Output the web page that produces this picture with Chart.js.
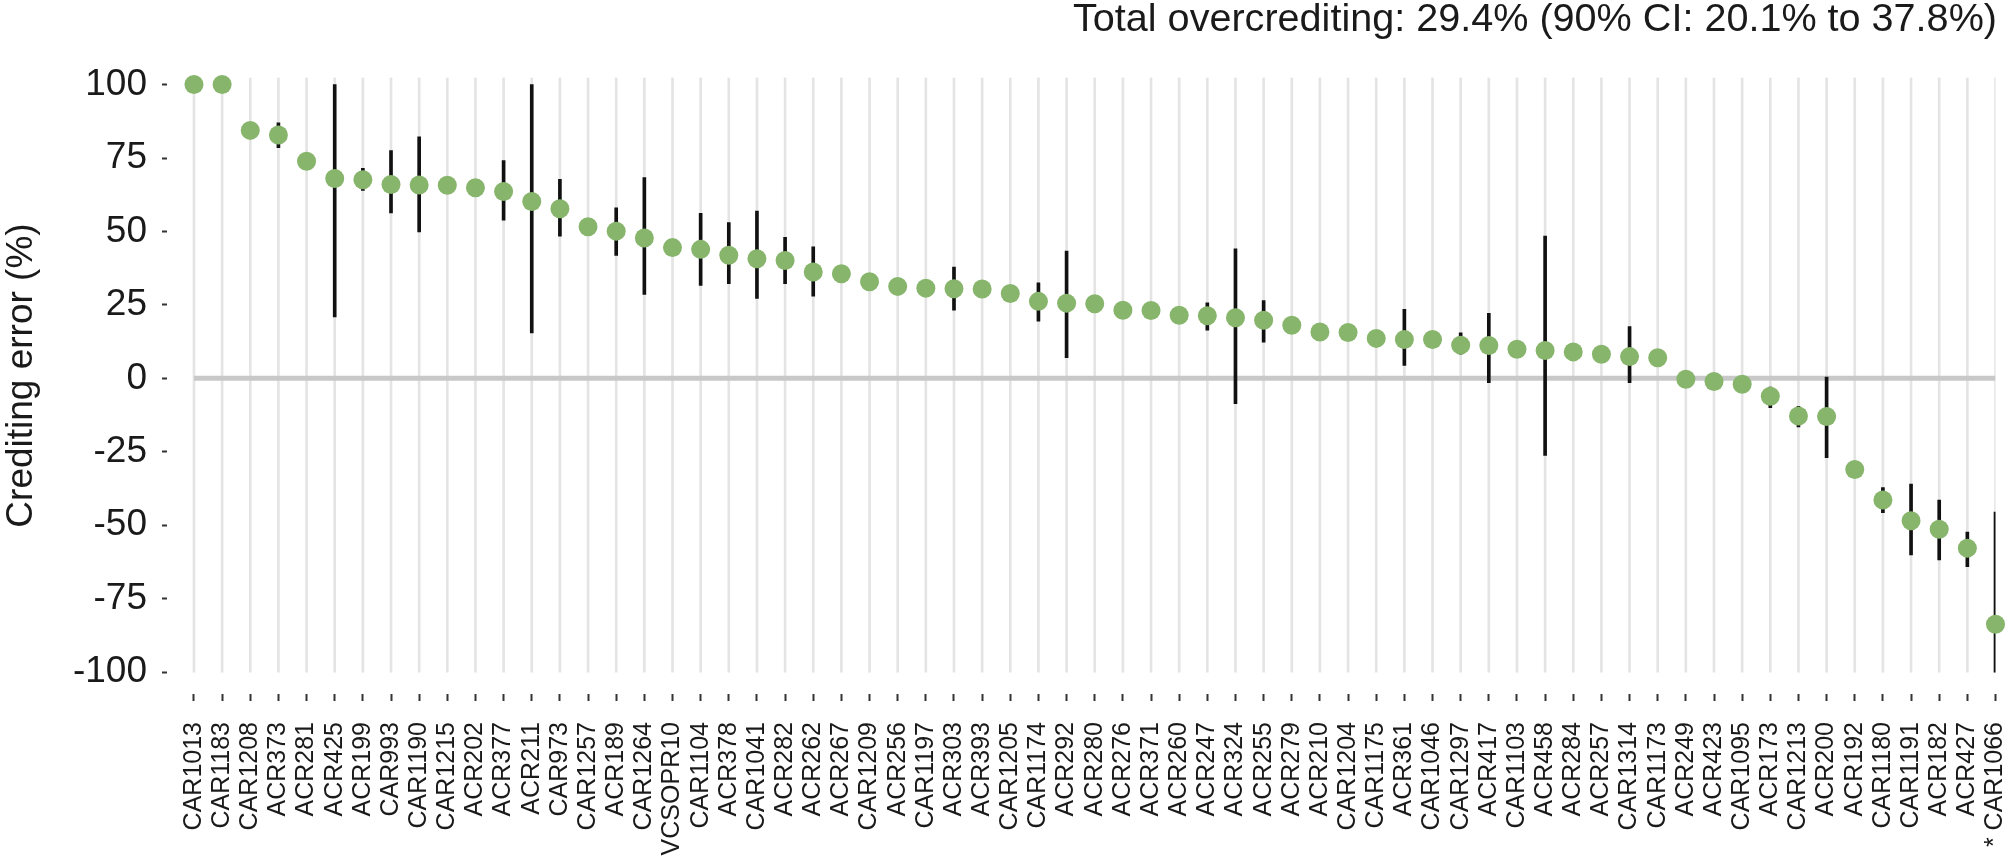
<!DOCTYPE html>
<html>
<head>
<meta charset="utf-8">
<title>Crediting error</title>
<script src="https://cdn.jsdelivr.net/npm/chart.js@4.4.1/dist/chart.umd.min.js"></script>
<style>
  html, body { margin: 0; padding: 0; background: #fff; }
  #wrap { width: 2005px; height: 856px; }
</style>
</head>
<body>
<div id="wrap"><canvas id="chart"></canvas></div>
<script>
const projects = [
  "CAR1013", "CAR1183", "CAR1208", "ACR373", "ACR281", "ACR425", "ACR199", "CAR993",
  "CAR1190", "CAR1215", "ACR202", "ACR377", "ACR211", "CAR973", "CAR1257", "ACR189",
  "CAR1264", "VCSOPR10", "CAR1104", "ACR378", "CAR1041", "ACR282", "ACR262", "ACR267",
  "CAR1209", "ACR256", "CAR1197", "ACR303", "ACR393", "CAR1205", "CAR1174", "ACR292",
  "ACR280", "ACR276", "ACR371", "ACR260", "ACR247", "ACR324", "ACR255", "ACR279",
  "ACR210", "CAR1204", "CAR1175", "ACR361", "CAR1046", "CAR1297", "ACR417", "CAR1103",
  "ACR458", "ACR284", "ACR257", "CAR1314", "CAR1173", "ACR249", "ACR423", "CAR1095",
  "ACR173", "CAR1213", "ACR200", "ACR192", "CAR1180", "CAR1191", "ACR182", "ACR427",
  "* CAR1066"
];

// crediting error (%) per project
const creditingError = [
  100, 100, 84.4, 82.8, 73.9, 68.0, 67.6, 66.0,
  65.8, 65.7, 64.9, 63.6, 60.2, 57.7, 51.6, 50.1,
  47.8, 44.5, 43.9, 41.9, 40.7, 40.1, 36.2, 35.6,
  32.9, 31.3, 30.7, 30.5, 30.4, 28.9, 26.2, 25.6,
  25.4, 23.2, 23.1, 21.5, 21.3, 20.6, 19.8, 18.1,
  15.8, 15.6, 13.6, 13.2, 13.2, 11.3, 11.2, 9.9,
  9.5, 9.0, 8.2, 7.4, 7.0, -0.3, -1.1, -2.0,
  -6.1, -12.8, -13.0, -31.0, -41.4, -48.5, -51.4, -57.8,
  -83.7
];

// 90% interval ends, null where no bar is drawn
const ciLow = [
  null, null, null, 78.5, null, 20.9, 64.0, 56.3,
  49.8, null, null, 53.8, 15.5, 48.4, null, 41.8,
  28.6, null, 31.6, 32.2, 27.2, 32.2, 28.0, null,
  null, null, null, 23.2, null, null, 19.5, 7.0,
  null, null, null, null, 16.4, -8.6, 12.3, null,
  null, null, null, 4.4, null, 8.2, -1.5, null,
  -26.2, null, null, -1.5, null, null, null, null,
  -10.0, -16.5, -27.0, null, -45.7, -60.1, -61.8, -64.1,
  -100
];
const ciHigh = [
  null, null, null, 87.0, null, 100, 71.5, 77.5,
  82.2, null, null, 74.1, 100, 67.7, null, 58.0,
  68.3, null, 56.2, 53.0, 56.9, 48.0, 44.8, null,
  null, null, null, 37.9, null, null, 32.5, 43.3,
  null, null, null, null, 25.7, 44.1, 26.5, null,
  null, null, null, 23.5, null, 15.5, 22.1, null,
  48.4, null, null, 17.6, null, null, null, null,
  -3.0, -9.5, 0.4, null, -37.2, -36.0, -41.4, -52.3,
  -45.5
];

const yTicks = [100, 75, 50, 25, 0, -25, -50, -75, -100];
const headline = "Total overcrediting: 29.4% (90% CI: 20.1% to 37.8%)";

const Y_MIN = -107.45, Y_MAX = 102.37;
const GRID_LOW = -100, GRID_HIGH = Y_MAX;

const points = projects.map((p, i) => ({ x: i, y: creditingError[i] }));
const errorBars = [];
projects.forEach((p, i) => {
  if (ciLow[i] !== null) errorBars.push({ x: i, y: [ciLow[i], ciHigh[i]] });
});
const gridBars = projects.map((p, i) => ({ x: i, y: [GRID_LOW, GRID_HIGH] }));
const last = projects.length - 1;

Chart.defaults.font.family = "'Liberation Sans', Arial, Helvetica, sans-serif";
Chart.defaults.color = "#1a1a1a";

new Chart(document.getElementById("chart"), {
  type: "scatter",
  data: {
    datasets: [
      {
        type: "scatter",
        data: points,
        backgroundColor: "#87b56c",
        pointRadius: 9.5,
        pointBorderWidth: 0,
        order: 0,
        clip: false
      },
      {
        type: "bar",
        data: errorBars,
        backgroundColor: "#111111",
        barThickness: 3,
        borderWidth: 0,
        grouped: false,
        order: 1
      },
      {
        type: "line",
        data: [{ x: 0, y: 0 }, { x: last, y: 0 }],
        borderColor: "#c8c8c8",
        borderWidth: 5,
        pointRadius: 0,
        order: 2
      },
      {
        type: "bar",
        data: gridBars,
        backgroundColor: "#e4e4e4",
        barThickness: 2,
        borderWidth: 0,
        grouped: false,
        order: 3
      }
    ]
  },
  options: {
    responsive: true,
    maintainAspectRatio: false,
    animation: false,
    layout: { padding: { left: 0, right: 8, top: 0, bottom: 0 } },
    plugins: {
      legend: { display: false },
      tooltip: { enabled: false },
      title: {
        display: true,
        text: headline,
        align: "end",
        color: "#1a1a1a",
        font: { size: 39.6, weight: "normal", lineHeight: 1 },
        padding: { top: 0, bottom: 38 }
      }
    },
    scales: {
      x: {
        type: "linear",
        min: -0.958,
        max: last,
        offset: false,
        border: { display: false },
        grid: {
          offset: false,
          drawOnChartArea: false,
          drawTicks: true,
          tickLength: 7,
          tickWidth: 2,
          tickColor: "#333333"
        },
        afterBuildTicks: (scale) => {
          scale.ticks = projects.map((p, i) => ({ value: i }));
        },
        afterFit: (scale) => {
          scale.height = 162;
          scale.paddingLeft = 0;
          scale.paddingRight = 0;
        },
        ticks: {
          autoSkip: false,
          maxRotation: 90,
          minRotation: 90,
          padding: 21,
          color: "#1a1a1a",
          font: { size: 25 },
          callback: (value) => projects[Math.round(value)]
        }
      },
      y: {
        type: "linear",
        min: Y_MIN,
        max: Y_MAX,
        beginAtZero: false,
        border: { display: false },
        grid: {
          drawOnChartArea: false,
          drawTicks: true,
          tickLength: 5,
          tickWidth: 2,
          tickColor: "#333333"
        },
        afterBuildTicks: (scale) => {
          scale.ticks = yTicks.map(v => ({ value: v }));
        },
        afterFit: (scale) => {
          scale.width = 167;
          scale.paddingTop = 0;
          scale.paddingBottom = 0;
        },
        title: {
          display: true,
          // two leading spaces nudge the rotated title up to where the original sits
          text: "  Crediting error (%)",
          color: "#1a1a1a",
          font: { size: 37 },
          padding: 0
        },
        ticks: {
          padding: 15,
          color: "#1a1a1a",
          font: { size: 37 },
          callback: (value) => String(value)
        }
      }
    }
  }
});
</script>
</body>
</html>
